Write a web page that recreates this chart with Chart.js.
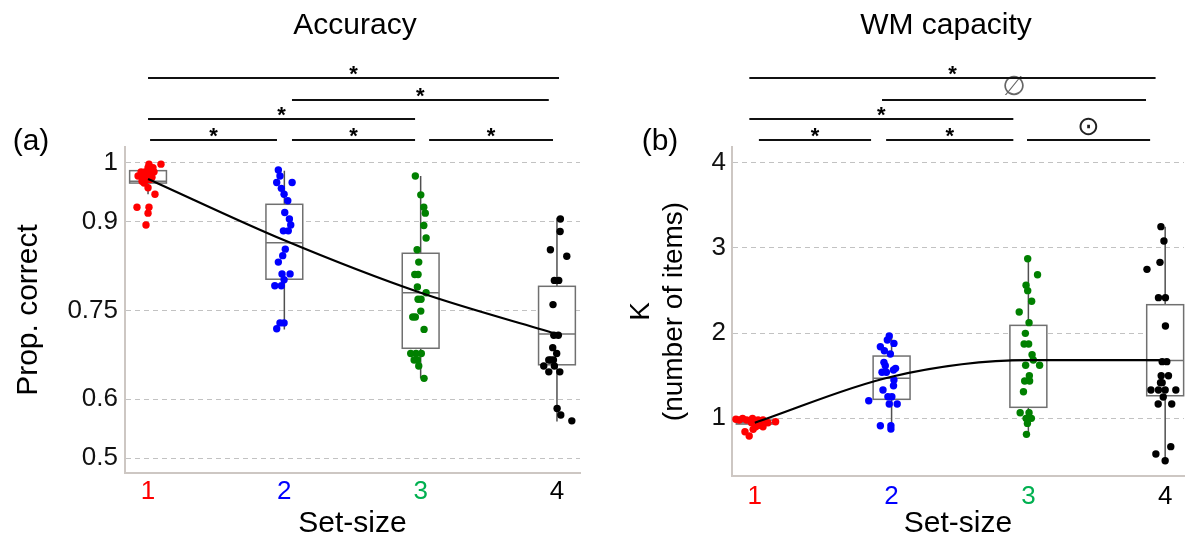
<!DOCTYPE html>
<html>
<head>
<meta charset="utf-8">
<script src="https://cdn.jsdelivr.net/npm/chart.js@4.4.1/dist/chart.umd.min.js"></script>
<style>
  html, body { margin: 0; padding: 0; background: #fff; }
  #wrap { position: relative; width: 1188px; height: 542px; }
  .panel { position: absolute; top: 0; width: 594px; height: 542px; }
</style>
</head>
<body>
<div id="wrap">
  <div class="panel" style="left:0"><canvas id="acc"></canvas></div>
  <div class="panel" style="left:594px"><canvas id="wm"></canvas></div>
</div>
<script>
// categories
var setSizes = [1, 2, 3, 4];
var tickColors = ["#ff0000", "#0000ff", "#00b050", "#000000"];
var dotColors = ["#ff0000", "#0000ff", "#008000", "#000000"];
var accTicks = [0.5, 0.6, 0.75, 0.9, 1];
var wmTicks = [1, 2, 3, 4];

// mean lines
var accMeans = [0.973, 0.869, 0.780, 0.710];
var wmMeans = [0.945, 1.486, 1.68, 1.68];

// box stats
var accQ1 = [0.966, 0.803, 0.686, 0.658];
var accMed = [0.969, 0.865, 0.780, 0.710];
var accQ3 = [0.987, 0.930, 0.847, 0.791];
var accLo = [0.947, 0.718, 0.635, 0.562];
var accHi = [1.0, 0.987, 0.978, 0.907];

var wmQ1 = [0.929, 1.22, 1.126, 1.262];
var wmMed = [0.945, 1.467, 1.682, 1.678];
var wmQ3 = [0.976, 1.729, 2.09, 2.333];
var wmLo = [0.91, 0.886, 0.812, 0.498];
var wmHi = [0.996, 1.95, 2.874, 3.251];

// individual subjects [set-size + jitter, value]
var accPts1 = [[1.007,0.998],[1.095,0.998],[1.0,0.992],[0.978,0.985],[1.022,0.986],[0.927,0.978],[0.963,0.978],[1.0,0.976],[1.029,0.976],[0.985,0.971],[0.971,0.966],[1.0,0.958],[1.051,0.947],[0.919,0.925],[1.007,0.925],[1.0,0.915],[0.985,0.895],[1.044,0.985],[0.949,0.985],[0.99,0.981],[1.015,0.972],[0.956,0.969],[1.036,0.992]];
var accPts2 = [[1.956,0.988],[1.968,0.978],[1.944,0.967],[2.057,0.967],[1.978,0.957],[1.998,0.947],[2.025,0.936],[2.003,0.916],[2.037,0.905],[2.047,0.895],[2.029,0.885],[1.993,0.885],[2.007,0.854],[1.988,0.843],[1.956,0.832],[1.983,0.812],[2.042,0.812],[1.998,0.802],[1.930,0.792],[1.978,0.792],[1.968,0.729],[1.998,0.729],[1.944,0.719]];
var accPts3 = [[2.961,0.978],[3.001,0.946],[3.023,0.925],[3.034,0.915],[3.023,0.894],[3.040,0.873],[2.974,0.853],[2.986,0.832],[2.957,0.811],[2.981,0.811],[2.976,0.790],[3.040,0.780],[2.981,0.769],[3.003,0.769],[3.001,0.749],[2.942,0.739],[2.961,0.739],[3.025,0.718],[2.927,0.677],[2.966,0.677],[3.005,0.677],[2.952,0.666],[2.976,0.666],[2.986,0.656],[3.025,0.635]];
var accPts4 = [[4.025,0.905],[4.023,0.884],[3.952,0.853],[4.072,0.842],[3.981,0.801],[4.013,0.801],[3.971,0.760],[3.977,0.708],[4.010,0.708],[3.969,0.687],[3.998,0.677],[3.940,0.666],[3.974,0.666],[3.955,0.666],[3.903,0.656],[3.981,0.656],[3.940,0.646],[4.021,0.646],[4.001,0.584],[4.028,0.573],[4.109,0.563]];

var wmPts1 = [[0.862,0.985],[0.911,0.996],[0.940,0.976],[0.983,0.996],[1.024,0.976],[1.060,0.976],[1.152,0.956],[0.976,0.945],[1.060,0.898],[1.007,0.898],[0.928,0.839],[0.959,0.788],[0.988,0.867],[1.031,0.914],[0.886,0.976],[1.096,0.945]];
var wmPts2 = [[1.983,1.965],[1.969,1.918],[2.017,1.878],[1.918,1.839],[1.947,1.792],[1.991,1.753],[1.944,1.655],[1.954,1.616],[2.029,1.584],[2.014,1.565],[1.930,1.538],[1.962,1.538],[2.017,1.447],[2.014,1.380],[1.937,1.329],[1.833,1.204],[1.973,1.251],[2.002,1.251],[1.983,1.165],[2.041,1.165],[1.918,0.909],[1.995,0.909],[1.995,0.871]];
var wmPts3 = [[2.995,2.874],[3.067,2.686],[2.983,2.561],[2.995,2.498],[3.024,2.373],[2.933,2.247],[3.005,2.122],[2.978,1.996],[2.969,1.871],[3.002,1.871],[3.027,1.745],[3.036,1.682],[2.980,1.62],[3.082,1.62],[3.007,1.498],[2.973,1.435],[3.009,1.435],[2.964,1.309],[2.940,1.062],[3.005,1.062],[2.983,0.996],[3.022,0.996],[2.993,0.937],[2.986,0.808]];
var wmPts4 = [[3.969,3.251],[3.991,3.082],[3.962,2.831],[3.867,2.749],[3.951,2.416],[4.002,2.416],[4.002,2.082],[3.978,1.663],[4.012,1.663],[3.971,1.498],[4.024,1.498],[3.978,1.416],[3.966,1.416],[3.896,1.329],[3.951,1.329],[4.0,1.329],[4.078,1.329],[3.986,1.247],[3.949,1.165],[4.048,1.165],[4.041,0.663],[3.932,0.576],[4.0,0.498]];

// pairwise comparisons [from, to, mark, row]
var accComps = [[1.015,1.946,"*",1],[2.056,2.959,"*",1],[3.062,3.971,"*",1],[1.0,2.959,"*",2],[2.056,3.94,"*",3],[1.0,4.015,"*",4]];
var wmComps = [[1.03,1.85,"*",1],[1.96,2.89,"*",1],[2.99,3.89,"\u2299",1],[0.96,2.89,"*",2],[1.93,3.86,"\u2205",3],[0.96,3.93,"*",4]];

var FONT = '"Liberation Sans", Arial, "DejaVu Sans", sans-serif';
Chart.defaults.font.family = FONT;
Chart.defaults.color = "#111";

function boxPlugin(q1, med, q3, lo, hi) {
    return {
        id: "boxes",
        beforeDatasetsDraw: function (chart) {
            var ctx = chart.ctx, x = chart.scales.x, y = chart.scales.y;
            ctx.save();
            for (var i = 0; i < setSizes.length; i++) {
                var cx = x.getPixelForValue(setSizes[i]);
                var hw = x.getPixelForValue(setSizes[i] + 0.135) - cx;
                var y1 = y.getPixelForValue(q1[i]), y3 = y.getPixelForValue(q3[i]);
                var ym = y.getPixelForValue(med[i]);
                ctx.strokeStyle = "#505050";
                ctx.lineWidth = 1.5;
                ctx.beginPath();
                ctx.moveTo(cx, y.getPixelForValue(hi[i]));
                ctx.lineTo(cx, y3);
                ctx.moveTo(cx, y1);
                ctx.lineTo(cx, y.getPixelForValue(lo[i]));
                ctx.stroke();
                ctx.fillStyle = "#fff";
                ctx.fillRect(cx - hw, y3, 2 * hw, y1 - y3);
                ctx.strokeStyle = "#707070";
                ctx.strokeRect(cx - hw, y3, 2 * hw, y1 - y3);
                ctx.beginPath();
                ctx.moveTo(cx - hw, ym);
                ctx.lineTo(cx + hw, ym);
                ctx.stroke();
            }
            ctx.restore();
        }
    };
}

function headerPlugin(title, titleX, letter, letterX, comps) {
    var rowY = [0, 140, 119, 100, 78];
    return {
        id: "header",
        afterDraw: function (chart) {
            var ctx = chart.ctx, x = chart.scales.x;
            ctx.save();
            ctx.fillStyle = "#000";
            ctx.textAlign = "center";
            ctx.textBaseline = "middle";
            ctx.font = "30px " + FONT;
            ctx.fillText(title, titleX, 26);
            ctx.fillText(letter, letterX, 142);
            comps.forEach(function (c) {
                var x1 = x.getPixelForValue(c[0]), x2 = x.getPixelForValue(c[1]);
                var yy = rowY[c[3]];
                ctx.strokeStyle = "#111";
                ctx.lineWidth = 2;
                ctx.beginPath();
                ctx.moveTo(x1, yy);
                ctx.lineTo(x2, yy);
                ctx.stroke();
                var mx = (x1 + x2) / 2;
                if (c[2] === "*") {
                    ctx.fillStyle = "#000";
                    ctx.font = "bold 22px " + FONT;
                    ctx.fillText("*", mx, yy - 3);
                } else {
                    ctx.fillStyle = c[2] === "\u2205" ? "#666" : "#222";
                    ctx.font = '27px "DejaVu Sans", sans-serif';
                    ctx.fillText(c[2], mx, yy - 12);
                }
            });
            ctx.restore();
        }
    };
}

function pts(arr) {
    return arr.map(function (p) { return { x: p[0], y: p[1] }; });
}

function makePanel(id, o) {
    var datasets = [{
        type: "line",
        data: setSizes.map(function (s, i) { return { x: s, y: o.means[i] }; }),
        borderColor: "#000",
        borderWidth: 2.2,
        pointRadius: 0,
        cubicInterpolationMode: "monotone",
        order: 0
    }];
    o.groups.forEach(function (g, i) {
        datasets.push({
            type: "scatter",
            data: pts(g),
            backgroundColor: dotColors[i],
            borderWidth: 0,
            pointRadius: 3.7,
            order: 1
        });
    });

    return new Chart(document.getElementById(id), {
        type: "scatter",
        data: { datasets: datasets },
        options: {
            responsive: true,
            maintainAspectRatio: false,
            animation: false,
            events: [],
            layout: { padding: { top: 147, right: o.padRight, left: 0, bottom: 0 } },
            plugins: { legend: { display: false }, tooltip: { enabled: false } },
            scales: {
                x: {
                    type: "linear",
                    min: o.xMin,
                    max: o.xMax,
                    afterBuildTicks: function (s) { s.ticks = setSizes.map(function (v) { return { value: v }; }); },
                    afterFit: function (s) { s.height = o.xHeight; },
                    grid: { display: false, drawTicks: false },
                    border: { display: true, color: "#cdc7c3", width: 2 },
                    ticks: {
                        color: function (c) { return tickColors[c.index]; },
                        font: { size: 26 },
                        padding: o.xPad,
                        callback: function (v) { return String(v); }
                    },
                    title: { display: true, text: "Set-size", color: "#000", font: { size: 30 }, padding: 0 }
                },
                y: {
                    type: "linear",
                    min: o.yMin,
                    max: o.yMax,
                    afterBuildTicks: function (s) { s.ticks = o.ticks.map(function (v) { return { value: v }; }); },
                    afterFit: function (s) { s.width = o.yWidth; },
                    grid: { color: "#c2c2c2", lineWidth: 1, drawTicks: false },
                    border: { display: true, color: "#cdc7c3", width: 2, dash: [5, 4] },
                    ticks: {
                        font: { size: 26 },
                        color: "#111",
                        padding: o.yPad,
                        callback: function (v) { return String(v); }
                    },
                    title: { display: true, text: o.yTitle, color: "#000", font: { size: o.yTitleSize }, padding: { top: o.yTitlePad } }
                }
            }
        },
        plugins: [
            boxPlugin(o.q1, o.med, o.q3, o.lo, o.hi),
            headerPlugin(o.title, o.titleX, o.letter, o.letterX, o.comps)
        ]
    });
}

makePanel("acc", {
    means: accMeans,
    groups: [accPts1, accPts2, accPts3, accPts4],
    q1: accQ1, med: accMed, q3: accQ3, lo: accLo, hi: accHi,
    ticks: accTicks,
    xMin: 0.831, xMax: 4.169, yMin: 0.4746, yMax: 1.0271,
    xHeight: 69, yWidth: 125, padRight: 14, xPad: 3, yPad: 7,
    yTitle: "Prop. correct", yTitleSize: 30, yTitlePad: 11,
    title: "Accuracy", titleX: 355, letter: "(a)", letterX: 31,
    comps: accComps
});

makePanel("wm", {
    means: wmMeans,
    groups: [wmPts1, wmPts2, wmPts3, wmPts4],
    q1: wmQ1, med: wmMed, q3: wmQ3, lo: wmLo, hi: wmHi,
    ticks: wmTicks,
    xMin: 0.8333, xMax: 4.1377, yMin: 0.318, yMax: 4.188,
    xHeight: 66, yWidth: 138, padRight: 0, xPad: 5, yPad: 6,
    yTitle: ["K", "(number of items)"], yTitleSize: 28, yTitlePad: 30,
    title: "WM capacity", titleX: 352, letter: "(b)", letterX: 66,
    comps: wmComps
});
</script>
</body>
</html>
